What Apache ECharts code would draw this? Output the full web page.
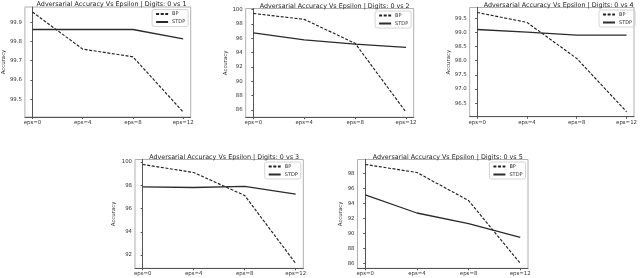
<!DOCTYPE html>
<html><head><meta charset="utf-8">
<script src="https://cdn.jsdelivr.net/npm/echarts@6/dist/echarts.min.js"></script>
<style>html,body{margin:0;padding:0;background:#fff}#c{width:640px;height:278px}</style>
</head><body><div id="c"></div>
<script>
// ---- data ----
const eps = [0, 4, 8, 12];
const xTickLabels = ['eps=0', 'eps=4', 'eps=8', 'eps=12'];
const titles = [
  'Adversarial Accuracy Vs Epsilon | Digits: 0 vs 1',
  'Adversarial Accuracy Vs Epsilon | Digits: 0 vs 2',
  'Adversarial Accuracy Vs Epsilon | Digits: 0 vs 4',
  'Adversarial Accuracy Vs Epsilon | Digits: 0 vs 3',
  'Adversarial Accuracy Vs Epsilon | Digits: 0 vs 5'
];
const bp1 = [99.953, 99.76, 99.72, 99.433];
const stdp1 = [99.862, 99.862, 99.862, 99.813];
const bp2 = [99.48, 98.65, 95.3, 85.67];
const stdp2 = [96.75, 95.8, 95.2, 94.75];
const bp4 = [99.70, 99.35, 98.08, 96.20];
const stdp4 = [99.10, 99.01, 98.90, 98.90];
const bp3 = [99.78, 99.09, 97.12, 91.29];
const stdp3 = [97.86, 97.80, 97.90, 97.23];
const bp5 = [99.16, 98.09, 94.36, 86.0];
const stdp5 = [95.1, 92.7, 91.3, 89.47];
const yTicks1 = [99.5, 99.6, 99.7, 99.8, 99.9];
const yTicks2 = [86, 88, 90, 92, 94, 96, 98, 100];
const yTicks4 = [96.5, 97.0, 97.5, 98.0, 98.5, 99.0, 99.5];
const yTicks3 = [92, 94, 96, 98, 100];
const yTicks5 = [86, 88, 90, 92, 94, 96, 98];
const yDecimals = [1, 0, 1, 0, 0];
const yName = 'Accuracy';

// ---- layout ----
const panels = [
  {bp: bp1, stdp: stdp1, ticks: yTicks1, box: [22.4, 7, 168.3, 110], nameGap: 18},
  {bp: bp2, stdp: stdp2, ticks: yTicks2, box: [245.7, 8.5, 168, 108.7], nameGap: 15.5},
  {bp: bp4, stdp: stdp4, ticks: yTicks4, box: [469.7, 7.5, 167.9, 109.2], nameGap: 18.5},
  {bp: bp3, stdp: stdp3, ticks: yTicks3, box: [135, 159.5, 168.3, 108.8], nameGap: 19},
  {bp: bp5, stdp: stdp5, ticks: yTicks5, box: [357.5, 159.5, 170.5, 108.8], nameGap: 14.5}
];
const FONT = 'DejaVu Sans';
const grid = [], xAxis = [], yAxis = [], series = [], title = [], legend = [];
panels.forEach((p, i) => {
  const [l, t, w, h] = p.box;
  const all = p.bp.concat(p.stdp);
  const lo = Math.min(...all), hi = Math.max(...all), m = (hi - lo) * 0.05;
  grid.push({left: l, top: t, width: w, height: h, show: true, borderColor: '#b0b0b0', borderWidth: 1});
  xAxis.push({type: 'value', gridIndex: i, min: -0.6, max: 12.6,
    axisLine: {show: true, lineStyle: {color: '#555', width: 1}},
    axisTick: {show: true, customValues: eps, length: 2, lineStyle: {color: '#555'}},
    axisLabel: {customValues: eps, formatter: v => xTickLabels[eps.indexOf(v)], fontSize: 5.4, color: '#333', margin: 3, fontFamily: FONT},
    splitLine: {show: false}});
  yAxis.push({type: 'value', gridIndex: i, min: lo - m, max: hi + m,
    name: yName, nameLocation: 'middle', nameRotate: 90, nameGap: p.nameGap,
    nameTextStyle: {fontSize: 5.4, color: '#333', fontFamily: FONT},
    axisLine: {show: true, lineStyle: {color: '#555', width: 1}},
    axisTick: {show: true, customValues: p.ticks, length: 2, lineStyle: {color: '#555'}},
    axisLabel: {customValues: p.ticks, formatter: v => v.toFixed(yDecimals[i]), fontSize: 5.4, color: '#333', margin: 3, fontFamily: FONT},
    splitLine: {show: false}});
  title.push({text: titles[i], left: l + w / 2, textAlign: 'center', top: t - 10.5,
    textStyle: {fontSize: 6.4, fontWeight: 'normal', color: '#222', fontFamily: FONT}});
  legend.push({data: ['BP', 'STDP'], orient: 'vertical', right: 640 - (l + w) + 2.5, top: t + 2.5,
    itemWidth: 12, itemHeight: 4, itemGap: 3, padding: [2, 3, 2, 3],
    borderColor: '#ccc', borderWidth: 0.8, borderRadius: 2,
    itemStyle: {opacity: 0},
    textStyle: {fontSize: 5, color: '#333', fontFamily: FONT, padding: [0, 0, 0, -1]}});
  series.push({name: 'BP', type: 'line', xAxisIndex: i, yAxisIndex: i, symbol: 'none',
    data: eps.map((e, k) => [e, p.bp[k]]),
    lineStyle: {color: '#222', width: 1.15, type: [3, 1.6]}, itemStyle: {color: '#222'}});
  series.push({name: 'STDP', type: 'line', xAxisIndex: i, yAxisIndex: i, symbol: 'none',
    data: eps.map((e, k) => [e, p.stdp[k]]),
    lineStyle: {color: '#2b2b2b', width: 1.3}, itemStyle: {color: '#2b2b2b'}});
});
const chart = echarts.init(document.getElementById('c'), null, {renderer: 'canvas'});
chart.setOption({animation: false, backgroundColor: '#fff', title, grid, xAxis, yAxis, legend, series});
</script></body></html>
